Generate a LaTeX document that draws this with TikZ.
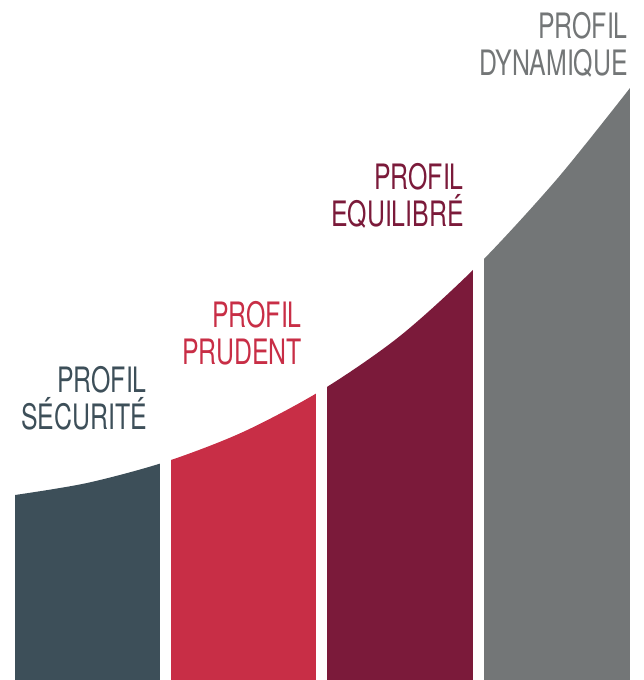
\documentclass[tikz,border=0pt]{standalone}
\usepackage{fontspec}
\setmainfont{TeX Gyre Heros}[FakeStretch=0.71]
\definecolor{securite}{HTML}{3D4F59}
\definecolor{prudent}{HTML}{C82E46}
\definecolor{equilibre}{HTML}{7B1A3A}
\definecolor{dynamique}{HTML}{737677}
\begin{document}
\begin{tikzpicture}[x=1pt, y=-1pt,
    profil/.style={anchor=base east, align=right, inner sep=0pt,
        font=\fontsize{35}{36.5}\selectfont}]
    \useasboundingbox (0,0) rectangle (644,680);
    % bars under the rising curve
    \begin{scope}
        \clip plot[smooth] coordinates {(15,495) (87,483) (165,462) (243,432)
            (322,390) (400,336) (478,265) (557,179) (630,88)}
            -- (630,680) -- (15,680) -- cycle;
        \fill[securite] (15,0) rectangle (160,680);
        \fill[prudent] (171,0) rectangle (316,680);
        \fill[equilibre] (327,0) rectangle (473,680);
        \fill[dynamique] (484,0) rectangle (630,680);
    \end{scope}
    \node[profil, text=securite] (secu) at (147,429) {PROFIL\\SÉCURITÉ};
    \node[profil, text=prudent] (prud) at (302,364) {PROFIL\\PRUDENT};
    \node[profil, text=equilibre] (equi) at (464,226) {PROFIL\\EQUILIBRÉ};
    \node[profil, text=dynamique] (dyna) at (628,75) {PROFIL\\DYNAMIQUE};
\end{tikzpicture}
\end{document}
